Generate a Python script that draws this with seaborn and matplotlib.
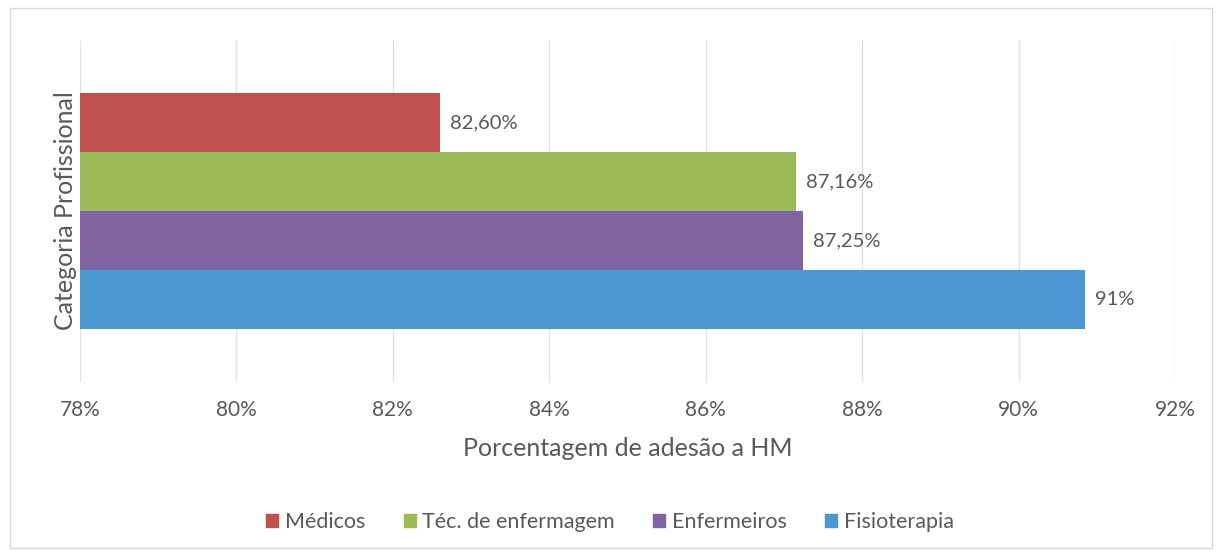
import numpy as np
import pandas as pd
import matplotlib
matplotlib.use("Agg")
import matplotlib.pyplot as plt
import matplotlib.patches as mpatches
import seaborn as sns

categorias = ["Médicos", "Téc. de enfermagem", "Enfermeiros", "Fisioterapia"]
adesao = [82.60, 87.16, 87.25, 90.85]
rotulos = ["82,60%", "87,16%", "87,25%", "91%"]
cores = ["#C0504D", "#9BBB59", "#8064A2", "#4A97D2"]
xticks = [78, 80, 82, 84, 86, 88, 90, 92]

df = pd.DataFrame({"grupo": ["Categoria Profissional"] * 4,
                   "categoria": categorias,
                   "adesao": adesao})

sns.set_theme(style="white")
plt.rcParams["font.family"] = ["Lato", "DejaVu Sans"]
cinza = "#595959"

fig, ax = plt.subplots(figsize=(12.2, 5.58), dpi=100)
fig.subplots_adjust(left=80/1220, right=1175/1220, top=1-40/558, bottom=1-382/558)

sns.barplot(data=df, y="grupo", x="adesao", hue="categoria", palette=cores,
            orient="h", width=0.8, saturation=1, linewidth=0, ax=ax, legend=False)

for cont, lab in zip(ax.containers, rotulos):
    ax.bar_label(cont, labels=[lab], padding=7, fontsize=14.5, color=cinza)

ax.set_xlim(78, 92)
ax.set_ylim(0.58, -0.58)
ax.set_xticks(xticks)
ax.set_xticklabels([f"{t}%" for t in xticks], fontsize=15, color=cinza)
ax.tick_params(axis="x", length=0, pad=13)
ax.set_yticks([])
ax.xaxis.grid(True, color="#E3E3E3", linewidth=1)
ax.set_axisbelow(True)
for s in ax.spines.values():
    s.set_visible(False)

ax.set_xlabel("Porcentagem de adesão a HM", fontsize=18, color=cinza, labelpad=12)
ax.set_ylabel("Categoria Profissional", fontsize=18, color=cinza, labelpad=2)

handles = [mpatches.Patch(color=c, label=n) for c, n in zip(cores, categorias)]
leg = fig.legend(handles=handles, loc="center", bbox_to_anchor=(0.5, 1-522/558),
                 ncol=4, frameon=False, fontsize=15.5, handlelength=0.55,
                 handleheight=0.55, handletextpad=0.3, columnspacing=1.8)
for t in leg.get_texts():
    t.set_color(cinza)

fig.patches.append(mpatches.Rectangle((10/1220, 1-548/558), 1202/1220, 540/558,
                                      transform=fig.transFigure, fill=False,
                                      edgecolor="#D9D9D9", linewidth=1))

fig.savefig("out.png", dpi=100)
